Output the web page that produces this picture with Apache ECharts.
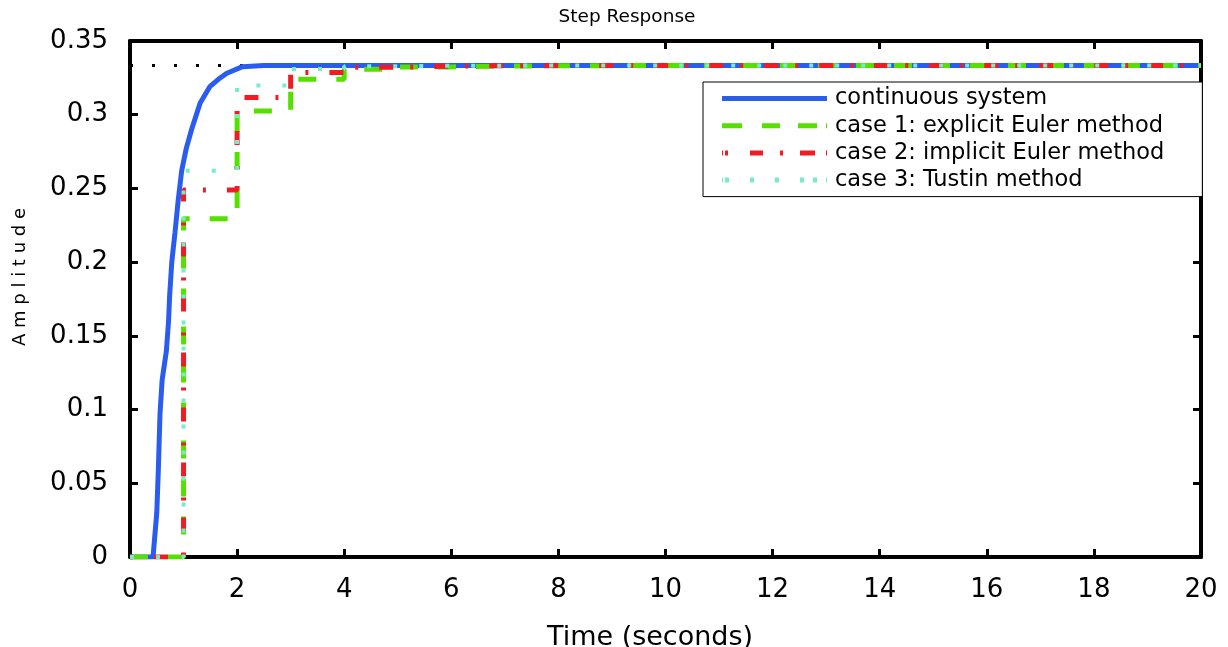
<!DOCTYPE html>
<html>
<head>
<meta charset="utf-8">
<script src="https://cdn.jsdelivr.net/npm/echarts@6/dist/echarts.min.js"></script>
<style>
html,body{margin:0;padding:0;background:#fff;}
#chart{width:1228px;height:647px;}
</style>
</head>
<body>
<div id="chart"></div>
<script>
// ---- data ----
const titleText = 'Step Response';
const xLabel = 'Time (seconds)';
const yLabel = 'A m p l i t u d e';
const seriesNames = ['continuous system', 'case 1: explicit Euler method', 'case 2: implicit Euler method', 'case 3: Tustin method'];

// continuous response (time, amplitude)
const contTime = [0, 0.43, 0.50, 0.53, 0.56, 0.60, 0.68, 0.72, 0.74, 0.78, 0.84, 0.90, 0.965, 1.05, 1.15, 1.31, 1.49, 1.65, 1.80, 2.10, 2.50, 20];
const contAmp  = [0, 0, 0.030, 0.060, 0.097, 0.120, 0.140, 0.160, 0.177, 0.200, 0.220, 0.242, 0.262, 0.277, 0.290, 0.308, 0.319, 0.324, 0.328, 0.3326, 0.3333, 0.3333];

// discrete responses, sample time 1 s
const sampleTimes = [0,1,2,3,4,5,6,7,8,9,10,11,12,13,14,15,16,17,18,19,20];
const case1Amp = [0, 0.2295, 0.3026, 0.3240, 0.3308, 0.3324, 0.3330, 0.3332, 0.3333, 0.3333, 0.3333, 0.3333, 0.3333, 0.3333, 0.3333, 0.3333, 0.3333, 0.3333, 0.3333, 0.3333, 0.3333];
const case2Amp = [0, 0.2490, 0.3117, 0.3287, 0.3322, 0.3330, 0.3332, 0.3333, 0.3333, 0.3333, 0.3333, 0.3333, 0.3333, 0.3333, 0.3333, 0.3333, 0.3333, 0.3333, 0.3333, 0.3333, 0.3333];
const case3Amp = [0, 0.2620, 0.3199, 0.3310, 0.3329, 0.3332, 0.3333, 0.3333, 0.3333, 0.3333, 0.3333, 0.3333, 0.3333, 0.3333, 0.3333, 0.3333, 0.3333, 0.3333, 0.3333, 0.3333, 0.3333];

// steady-state reference line
const steadyTime = [0, 20];
const steadyAmp = [0.3333, 0.3333];

// axes
const xMin = 0, xMax = 20, xStep = 2;
const yMin = 0, yMax = 0.35, yStep = 0.05;

// ---- chart ----
const FONT = 'DejaVu Sans';
const zip = (a, b) => a.map((v, i) => [v, b[i]]);
const chart = echarts.init(document.getElementById('chart'));

const colors = ['#2a5cf0', '#55e000', '#f01c24', '#78ebc8'];
// legend line-style samples (105 x 5 icons)
const legendIcons = [
  'path://M0,0H105V5H0Z',
  'path://M0,0H1V5H0Z M1,0H20V5H1Z M40,0H58V5H40Z M76,0H95V5H76Z M104,0H105V5H104Z',
  'path://M0,0H1V5H0Z M3,0H6V5H3Z M28,0H41V5H28Z M58,0H61V5H58Z M78,0H93V5H78Z M104,0H105V5H104Z',
  'path://M0,0H1V5H0Z M3,0H7V5H3Z M28,0H32V5H28Z M53,0H57V5H53Z M78,0H82V5H78Z M91,0H95V5H91Z M104,0H105V5H104Z'
];

const frameAxis = (extra) => Object.assign({
  type: 'value', min: extra.min, max: extra.max, interval: extra.interval,
  splitLine: {show: false},
  axisLine: {show: true, onZero: false, lineStyle: {color: '#000', width: 4}},
  axisTick: {show: true, inside: true, length: 8, lineStyle: {color: '#000', width: 3}},
  axisLabel: {show: false}
}, extra);

const option = {
  animation: false,
  backgroundColor: '#fff',
  title: {
    text: titleText, left: 622, top: 3, textAlign: 'center',
    textStyle: {fontFamily: FONT, fontSize: 18.5, fontWeight: 'normal', color: '#000'}
  },
  grid: {left: 130, right: 27, top: 41, bottom: 90, containLabel: false},
  legend: {
    orient: 'vertical', left: 703, top: 82,
    data: seriesNames.map((n, i) => ({name: n, icon: legendIcons[i], itemStyle: {color: colors[i], opacity: 1}})),
    backgroundColor: '#fff', borderColor: '#000', borderWidth: 1,
    padding: [5, 38, 5, 19],
    itemWidth: 105, itemHeight: 5, itemGap: 4.2,
    symbolKeepAspect: false,
    textStyle: {fontFamily: FONT, fontSize: 22.5, color: '#000', lineHeight: 22, padding: [0, 0, 0, 3]},
    selectedMode: false
  },
  xAxis: [
    frameAxis({min: xMin, max: xMax, interval: xStep, position: 'bottom',
      axisLabel: {show: true, margin: 20, fontFamily: FONT, fontSize: 26, color: '#000'}}),
    frameAxis({min: xMin, max: xMax, interval: xStep, position: 'top'})
  ],
  yAxis: [
    frameAxis({min: yMin, max: yMax, interval: yStep, position: 'left',
      axisLabel: {show: true, margin: 22, fontFamily: FONT, fontSize: 26, color: '#000'}}),
    frameAxis({min: yMin, max: yMax, interval: yStep, position: 'right'})
  ],
  graphic: [
    {type: 'text', left: 11, top: 208, rotation: Math.PI / 2,
      style: {text: yLabel, fontFamily: FONT, fontSize: 18, fill: '#000'}},
    {type: 'text', left: 547, top: 624,
      style: {text: xLabel, fontFamily: FONT, fontSize: 27, fill: '#000'}}
  ],
  series: [
    {name: 'steady', type: 'line', data: zip(steadyTime, steadyAmp), symbol: 'none', silent: true,
      lineStyle: {color: '#000', width: 3, type: [3, 19]}, z: 1},
    {name: seriesNames[0], type: 'line', data: zip(contTime, contAmp), symbol: 'none',
      lineStyle: {color: colors[0], width: 5}, itemStyle: {color: colors[0]}, z: 2},
    {name: seriesNames[1], type: 'line', step: 'end', data: zip(sampleTimes, case1Amp), symbol: 'none',
      lineStyle: {color: colors[1], width: 5, type: [18, 20]}, itemStyle: {color: colors[1]}, z: 3},
    {name: seriesNames[2], type: 'line', step: 'end', data: zip(sampleTimes, case2Amp), symbol: 'none',
      lineStyle: {color: colors[2], width: 5, type: [3, 21, 14, 17]}, itemStyle: {color: colors[2]}, z: 4},
    {name: seriesNames[3], type: 'line', step: 'end', data: zip(sampleTimes, case3Amp), symbol: 'none',
      lineStyle: {color: colors[3], width: 4, type: [4, 22]}, itemStyle: {color: colors[3]}, z: 5}
  ]
};
chart.setOption(option);
</script>
</body>
</html>
